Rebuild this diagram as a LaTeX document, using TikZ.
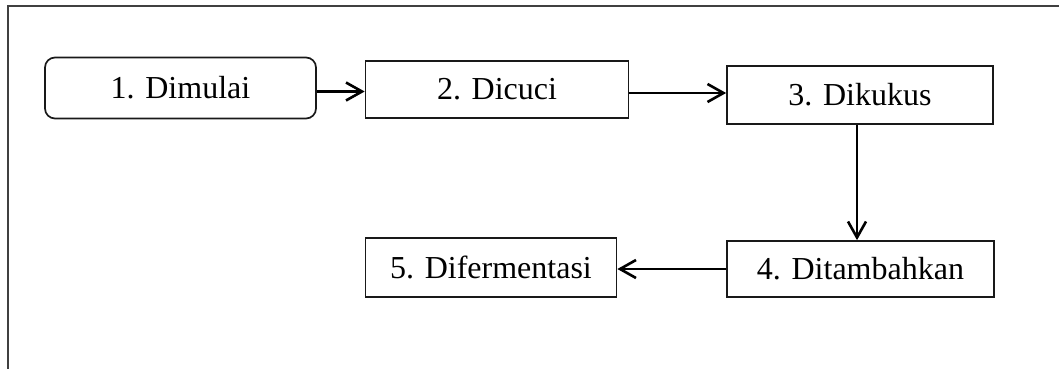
\documentclass[tikz,border=0pt]{standalone}
\usepackage{fontspec}
\setmainfont{Liberation Serif}
\usetikzlibrary{arrows.meta,calc}
\begin{document}
\begin{tikzpicture}[x=1pt,y=-1pt,
  stepbox/.style={draw=black!90, line width=1.7pt, rectangle, inner sep=0pt,
    font=\fontsize{32}{37}\selectfont},
  flow/.style={line width=2.6pt, -{Straight Barb[length=16pt,width=18pt,line width=2.6pt]}}]
  \useasboundingbox (0,0) rectangle (1059,369);
  % open frame: top and left edges only
  \draw[black!75, line width=1.7pt] (1059,6) -- (8,6) -- (8,369);
  % process steps
  \node[stepbox, rounded corners=10pt, minimum width=271pt, minimum height=61pt] (n1) at (180.5,88) {1. Dimulai};
  \node[stepbox, minimum width=263pt, minimum height=57pt] (n2) at (497,89.5) {2. Dicuci};
  \node[stepbox, minimum width=266pt, minimum height=58pt] (n3) at (860,95) {3. Dikukus};
  \node[stepbox, minimum width=267pt, minimum height=56pt] (n4) at (860.5,269) {4. Ditambahkan};
  \node[stepbox, minimum width=251pt, minimum height=59pt] (n5) at (491,267.5) {5. Difermentasi};
  % connectors
  \draw[flow] ([yshift=-3.5pt]n1.east) -- ([yshift=-3.5pt]n1.east -| n2.west);
  \draw[flow] ([yshift=-3.5pt]n2.east) -- ([yshift=-3.5pt]n2.east -| n3.west);
  \draw[flow] ([xshift=-3pt]n3.south) -- ([xshift=-3pt]n3.south |- n4.north);
  \draw[flow] (n4.west) -- (n4.west -| n5.east);
\end{tikzpicture}
\end{document}
